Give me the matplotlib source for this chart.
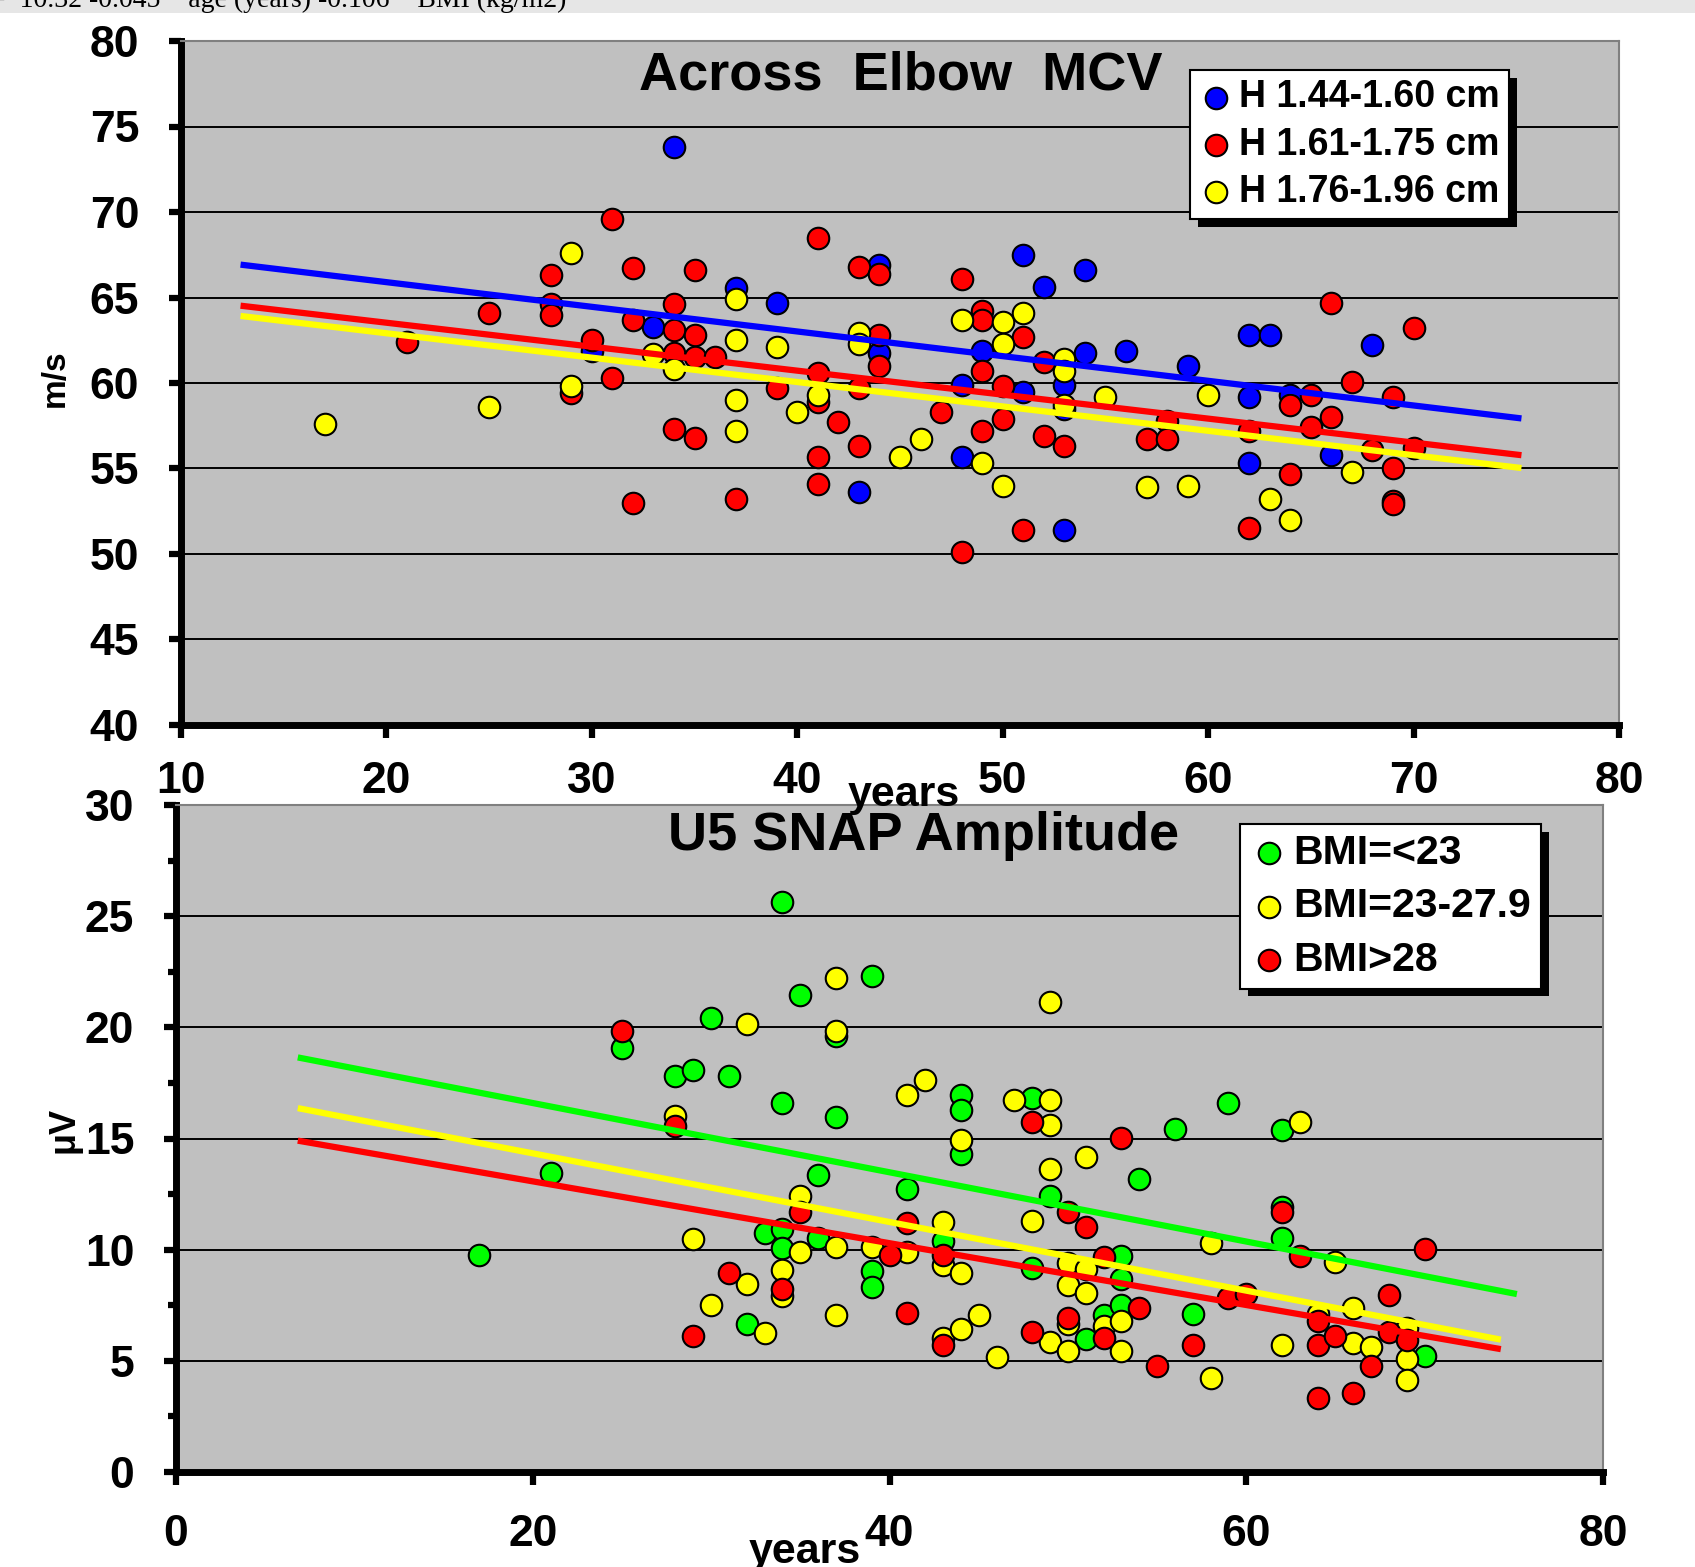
import matplotlib
matplotlib.use("Agg")
import matplotlib.pyplot as plt
from matplotlib import patheffects
from matplotlib.patches import Rectangle
from matplotlib.ticker import MultipleLocator

plt.rcParams['font.family'] = ['Liberation Sans', 'DejaVu Sans']
plt.rcParams['font.weight'] = 'bold'

# ---- top panel: across elbow MCV (m/s) vs age, grouped by height ----
blue_age = [34, 33, 30, 37, 39, 43, 44, 44, 48, 48, 49, 51, 51, 52, 53, 53, 53,
            54, 54, 56, 59, 62, 63, 62, 62, 64, 66, 68]
blue_mcv = [73.8, 63.3, 61.9, 65.55, 64.7, 53.6, 66.9, 61.75, 59.9, 55.7, 61.9,
            67.5, 59.5, 65.6, 59.9, 58.5, 51.4, 66.6, 61.75, 61.9, 61.0, 62.8,
            62.8, 59.2, 55.3, 59.3, 55.8, 62.2]

red_age = [21, 25, 28, 28, 28, 29, 30, 31, 31, 32, 32, 32, 34, 34, 34, 34, 35, 35,
           35, 35, 36, 37, 39, 41, 41, 41, 41, 41, 42, 43, 43, 43, 44, 44, 44, 47,
           48, 48, 49, 49, 49, 49, 50, 50, 51, 51, 52, 52, 53, 57, 58, 58, 62, 62,
           64, 64, 65, 65, 66, 66, 67, 68, 69, 69, 69, 69, 70, 70]
red_mcv = [62.4, 64.1, 66.3, 64.6, 64.0, 59.4, 62.5, 69.6, 60.3, 66.7, 63.7, 53.0,
           64.6, 63.1, 61.75, 57.3, 66.6, 62.8, 61.5, 56.8, 61.5, 53.2, 59.7, 68.5,
           60.6, 58.9, 55.7, 54.1, 57.7, 66.8, 59.7, 56.3, 66.4, 62.8, 61.0, 58.3,
           66.1, 50.1, 64.2, 63.7, 60.7, 57.2, 59.8, 57.9, 62.7, 51.4, 61.2, 56.9,
           56.3, 56.75, 57.8, 56.75, 57.2, 51.5, 58.7, 54.7, 59.3, 57.4, 64.7, 58.0,
           60.05, 56.1, 59.2, 55.0, 53.1, 52.9, 63.2, 56.2]

yel_age = [17, 25, 29, 29, 33, 34, 37, 37, 37, 37, 39, 40, 41, 43, 43, 45, 46, 48,
           49, 50, 50, 50, 51, 53, 53, 53, 55, 57, 59, 60, 63, 64, 67]
yel_mcv = [57.6, 58.6, 67.6, 59.85, 61.7, 60.8, 64.9, 62.5, 59.0, 57.2, 62.1, 58.3,
           59.3, 62.9, 62.3, 55.7, 56.7, 63.7, 55.3, 63.55, 62.3, 54.0, 64.1, 61.4,
           60.7, 58.7, 59.2, 53.9, 54.0, 59.3, 53.2, 52.0, 54.8]

top_labels = ['H 1.44-1.60 cm', 'H 1.61-1.75 cm', 'H 1.76-1.96 cm']

# trend lines (end points)
top_fit_x = [13.05, 75.1]
top_fit_blue = [66.9, 57.95]
top_fit_red = [64.5, 55.8]
top_fit_yel = [63.9, 55.05]

# ---- bottom panel: U5 SNAP amplitude (uV) vs age, grouped by BMI ----
grn_age = [17, 21, 25, 28, 29, 30, 31, 32, 33, 34, 34, 34, 34, 35, 36, 36, 37, 37,
           39, 39, 39, 41, 43, 44, 44, 44, 48, 48, 49, 51, 52, 53, 53, 53, 54, 56,
           57, 59, 62, 62, 62, 70]
grn_amp = [9.78, 13.47, 19.09, 17.81, 18.06, 20.41, 17.81, 6.65, 10.75, 25.64,
           16.59, 10.91, 10.08, 21.46, 13.36, 10.52, 19.59, 15.96, 22.32, 9.02,
           8.31, 12.73, 10.41, 16.94, 16.28, 14.31, 16.83, 9.18, 12.41, 5.97, 7.05,
           9.73, 8.70, 7.52, 13.20, 15.44, 7.12, 16.59, 15.38, 11.94, 10.52, 5.23]

ybmi_age = [28, 29, 30, 32, 32, 33, 34, 34, 35, 35, 37, 37, 37, 37, 39, 41, 41, 42,
            43, 43, 43, 44, 44, 44, 45, 46, 47, 48, 49, 49, 49, 49, 49, 50, 50, 50,
            50, 51, 51, 51, 52, 53, 53, 58, 58, 62, 63, 64, 65, 66, 66, 67, 69, 69,
            69]
ybmi_amp = [15.99, 10.49, 7.52, 20.15, 8.47, 6.23, 9.10, 7.9, 12.41, 9.89, 22.24,
            19.83, 10.12, 7.08, 10.12, 16.94, 9.89, 17.62, 11.23, 9.33, 6.02, 14.94,
            8.94, 6.41, 7.08, 5.18, 16.75, 11.28, 21.12, 16.75, 15.62, 13.63, 5.86,
            9.38, 8.39, 6.65, 5.44, 14.15, 9.15, 8.04, 6.57, 6.81, 5.44, 10.31, 4.21,
            5.70, 15.73, 7.12, 9.46, 7.36, 5.78, 5.63, 6.49, 5.07, 4.13]

rbmi_age = [25, 28, 29, 31, 34, 35, 40, 41, 41, 43, 43, 48, 48, 50, 50, 51, 52, 52,
            53, 54, 55, 57, 59, 60, 62, 63, 64, 64, 64, 65, 66, 67, 68, 68, 69, 70]
rbmi_amp = [19.83, 15.54, 6.13, 8.94, 8.23, 11.70, 9.78, 11.18, 7.17, 9.78, 5.70,
            15.73, 6.29, 11.70, 6.92, 11.02, 9.65, 6.02, 15.02, 7.36, 4.76, 5.70,
            7.84, 7.99, 11.70, 9.73, 6.81, 5.70, 3.34, 6.10, 3.57, 4.76, 7.96, 6.29,
            5.94, 10.04]

bot_labels = ['BMI=<23', 'BMI=23-27.9', 'BMI>28']

bot_fit_grn_x = [7, 75]
bot_fit_grn = [18.62, 8.03]
bot_fit_yr_x = [7, 74.1]
bot_fit_yel = [16.34, 5.98]
bot_fit_red = [14.88, 5.55]

BLUE, RED, YEL, GRN = '#0000FF', '#FF0000', '#FFFF00', '#00FF00'

W, H = 1695, 1567
fig = plt.figure(figsize=(W / 100, H / 100), dpi=100)


def px_box(l, t, r, b):
    return [l / W, 1 - b / H, (r - l) / W, (b - t) / H]


def style(ax, xpad, ypad):
    ax.set_facecolor('#C0C0C0')
    ax.grid(axis='y', color='black', lw=1.4)
    ax.set_axisbelow(True)
    for s in ['top', 'right']:
        ax.spines[s].set_color('#808080')
        ax.spines[s].set_linewidth(1.5)
    for s in ['left', 'bottom']:
        ax.spines[s].set_linewidth(5)
    ax.tick_params(direction='out', length=9, width=4.5, labelsize=32)
    ax.tick_params(axis='x', pad=xpad)
    ax.tick_params(axis='y', pad=ypad)


def add_legend(ax, handles, labels, x, y, size, spacing):
    leg = ax.legend(handles, labels, loc='upper left', bbox_to_anchor=(x / W, 1 - y / H),
                    bbox_transform=fig.transFigure, fancybox=False, framealpha=1,
                    edgecolor='black', prop={'size': size, 'weight': 'bold'},
                    handlelength=0.9, handletextpad=0.15, borderpad=0.25,
                    labelspacing=spacing, borderaxespad=0)
    frame = leg.get_frame()
    frame.set_linewidth(1.5)
    frame.set_path_effects([patheffects.SimplePatchShadow(offset=(5.5, -5.5),
                                                          shadow_rgbFace='black', alpha=1),
                            patheffects.Normal()])
    leg.set_zorder(10)


mk = dict(s=240, edgecolors='black', linewidths=1.5, zorder=3)

# top panel
ax1 = fig.add_axes(px_box(181, 41, 1619, 725))
style(ax1, 17, 21)
h1 = ax1.scatter(blue_age, blue_mcv, c=BLUE, **mk)
h2 = ax1.scatter(red_age, red_mcv, c=RED, **mk)
h3 = ax1.scatter(yel_age, yel_mcv, c=YEL, **mk)
ax1.plot(top_fit_x, top_fit_blue, color=BLUE, lw=4.5, zorder=4)
ax1.plot(top_fit_x, top_fit_red, color=RED, lw=4.5, zorder=4)
ax1.plot(top_fit_x, top_fit_yel, color=YEL, lw=4.5, zorder=4)
ax1.set_xlim(10, 80)
ax1.set_ylim(40, 80)
ax1.xaxis.set_major_locator(MultipleLocator(10))
ax1.yaxis.set_major_locator(MultipleLocator(5))
add_legend(ax1, [h1, h2, h3], top_labels, 1190, 70, 27, 0.3)

# bottom panel
ax2 = fig.add_axes(px_box(176, 805, 1603, 1472))
style(ax2, 21, 21)
g1 = ax2.scatter(grn_age, grn_amp, c=GRN, **mk)
g2 = ax2.scatter(ybmi_age, ybmi_amp, c=YEL, **mk)
g3 = ax2.scatter(rbmi_age, rbmi_amp, c=RED, **mk)
ax2.plot(bot_fit_grn_x, bot_fit_grn, color=GRN, lw=4.5, zorder=4)
ax2.plot(bot_fit_yr_x, bot_fit_yel, color=YEL, lw=4.5, zorder=4)
ax2.plot(bot_fit_yr_x, bot_fit_red, color=RED, lw=4.5, zorder=4)
ax2.set_xlim(0, 80)
ax2.set_ylim(0, 30)
ax2.xaxis.set_major_locator(MultipleLocator(20))
ax2.yaxis.set_major_locator(MultipleLocator(5))
ax2.yaxis.set_minor_locator(MultipleLocator(2.5))
ax2.tick_params(axis='y', which='minor', direction='out', length=6, width=4.5)
add_legend(ax2, [g1, g2, g3], bot_labels, 1240, 824, 29.5, 0.37)

# titles and axis labels
fig.text(901 / W, 1 - 76 / H, 'Across  Elbow  MCV', ha='center', va='center', fontsize=39)
fig.text(924 / W, 1 - 836 / H, 'U5 SNAP Amplitude', ha='center', va='center', fontsize=39)
fig.text(904 / W, 1 - 795 / H, 'years', ha='center', va='center', fontsize=31)
fig.text(805 / W, 1 - 1552 / H, 'years', ha='center', va='center', fontsize=31)
fig.text(55 / W, 1 - 378 / H, 'm/s', ha='center', va='center', rotation=90, fontsize=24)
fig.text(64 / W, 1 - 1130 / H, 'μV', ha='center', va='center', rotation=90, fontsize=26)

# clipped regression note strip at the very top
fig.patches.append(Rectangle((0, 1 - 13 / H), 1, 13 / H, transform=fig.transFigure,
                             facecolor='#E6E6E6', edgecolor='none', zorder=0))
fig.text(-10 / W, 1 - 7 / H, '=  10.32 -0.045 * age (years) -0.106 * BMI (kg/m2)',
         family=['Liberation Serif', 'DejaVu Serif'], fontweight='normal', fontsize=20,
         ha='left', va='baseline')

fig.savefig('out.png', dpi=100)
